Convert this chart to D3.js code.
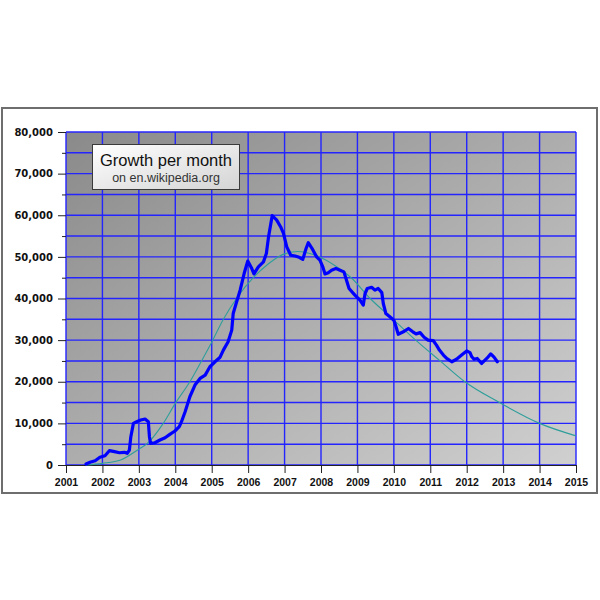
<!DOCTYPE html>
<html>
<head>
<meta charset="utf-8">
<script src="https://cdn.jsdelivr.net/npm/d3@7"></script>
<style>
  html, body { margin: 0; padding: 0; background: #fff; }
  svg { display: block; }
</style>
</head>
<body>
<svg id="chart" width="600" height="600"></svg>
<script>
// ---- Data ----
const growthYears = [
  2001.55, 2001.66, 2001.80, 2001.93, 2002.07, 2002.19, 2002.33, 2002.47, 2002.60, 2002.68,
  2002.74, 2002.78, 2002.85, 2002.94, 2003.05, 2003.17, 2003.26, 2003.29, 2003.32, 2003.44,
  2003.58, 2003.72, 2003.85, 2003.99, 2004.11, 2004.17, 2004.27, 2004.40, 2004.54, 2004.68,
  2004.82, 2004.95, 2005.09, 2005.23, 2005.32, 2005.45, 2005.55, 2005.59, 2005.67, 2005.78,
  2005.89, 2005.99, 2006.10, 2006.16, 2006.28, 2006.42, 2006.50, 2006.56, 2006.66, 2006.78,
  2006.89, 2006.97, 2007.06, 2007.17, 2007.29, 2007.40, 2007.50, 2007.59, 2007.65, 2007.77,
  2007.88, 2007.97, 2008.05, 2008.11, 2008.20, 2008.29, 2008.41, 2008.52, 2008.63, 2008.70,
  2008.77, 2008.93, 2009.07, 2009.16, 2009.21, 2009.27, 2009.39, 2009.48, 2009.57, 2009.67,
  2009.71, 2009.78, 2009.89, 2010.00, 2010.06, 2010.12, 2010.26, 2010.40, 2010.52, 2010.61,
  2010.72, 2010.83, 2010.94, 2011.08, 2011.17, 2011.25, 2011.36, 2011.45, 2011.59, 2011.72,
  2011.86, 2012.00, 2012.09, 2012.14, 2012.20, 2012.29, 2012.41, 2012.55, 2012.66, 2012.75,
  2012.84
];
const growthValues = [
  240, 650, 1030, 1850, 2230, 3440, 3200, 2950, 3050, 2800,
  3600, 6800, 10000, 10400, 10800, 11050, 10400, 6800, 5200, 5350,
  6000, 6560, 7370, 8170, 9200, 10400, 12800, 16400, 19200, 20800,
  21600, 23600, 24800, 25900, 27600, 29600, 32400, 36400, 38800, 42000,
  46000, 49000, 47200, 45900, 47600, 48800, 50800, 54800, 59900, 58900,
  57250, 55650, 52400, 50400, 50200, 49900, 49400, 52000, 53400, 51800,
  50000, 49200, 47600, 45900, 46200, 46800, 47200, 46800, 46400, 44400,
  42400, 40800, 39600, 38400, 41200, 42400, 42700, 42000, 42400, 41400,
  38800, 36400, 35600, 34800, 33200, 31400, 32000, 32800, 32000, 31500,
  31800, 30700, 30000, 29900, 28800, 27600, 26400, 25600, 24800, 25400,
  26400, 27400, 27000, 26000, 25400, 25600, 24400, 25600, 26700, 25900,
  24800
];
const trendYears = [
  2001.55, 2002.0, 2002.5, 2003.0, 2003.21, 2003.67, 2004.0, 2004.40, 2004.72, 2005.0,
  2005.32, 2005.68, 2006.14, 2006.55, 2006.96, 2007.35, 2007.9, 2008.4, 2008.85, 2009.35,
  2009.98, 2010.6, 2011.27, 2011.95, 2012.9, 2014.0, 2015.0
];
const trendValues = [
  0, 400, 1200, 3800, 5000, 10000, 14800, 20000, 25000, 29500,
  35000, 40000, 45000, 48300, 50600, 51300, 50200, 47800, 44800, 40000,
  35000, 30000, 25000, 20000, 15000, 10000, 7000
];
const yearTicks = [2001, 2002, 2003, 2004, 2005, 2006, 2007, 2008, 2009, 2010, 2011, 2012, 2013, 2014, 2015];
const valueTicks = [0, 10000, 20000, 30000, 40000, 50000, 60000, 70000, 80000];
const gridValues = [0, 5000, 10000, 15000, 20000, 25000, 30000, 35000, 40000, 45000, 50000, 55000, 60000, 65000, 70000, 75000, 80000];
const minorValues = [5000, 15000, 25000, 35000, 45000, 55000, 65000, 75000];
const titleText = "Growth per month";
const subtitleText = "on en.wikipedia.org";

// ---- Layout ----
const svg = d3.select("#chart");
const plot = { left: 66, top: 132, right: 576, bottom: 465 };

const x = d3.scaleLinear().domain([2001, 2015]).range([plot.left, plot.right]);
const y = d3.scaleLinear().domain([0, 80000]).range([plot.bottom, plot.top]);

const defs = svg.append("defs");
const bg = defs.append("linearGradient").attr("id", "bg")
  .attr("x1", "0").attr("y1", "0").attr("x2", "1").attr("y2", "1");
bg.append("stop").attr("offset", "0%").attr("stop-color", "#8a8a8a");
bg.append("stop").attr("offset", "100%").attr("stop-color", "#d0d0d0");

const tb = defs.append("linearGradient").attr("id", "titlebg")
  .attr("x1", "0").attr("y1", "0").attr("x2", "1").attr("y2", "1");
tb.append("stop").attr("offset", "0%").attr("stop-color", "#ffffff");
tb.append("stop").attr("offset", "100%").attr("stop-color", "#d4d4d4");

// outer frame
svg.append("rect")
  .attr("x", 2).attr("y", 108).attr("width", 595).attr("height", 385)
  .attr("fill", "#fff").attr("stroke", "#6e6e6e").attr("stroke-width", 2);

// plot background
svg.append("rect")
  .attr("x", plot.left).attr("y", plot.top)
  .attr("width", plot.right - plot.left).attr("height", plot.bottom - plot.top)
  .attr("fill", "url(#bg)");

// grid
const grid = svg.append("g").attr("stroke", "#2424ff").attr("stroke-width", 1.4);
grid.selectAll("line.h").data(gridValues).join("line")
  .attr("x1", plot.left).attr("x2", plot.right)
  .attr("y1", d => y(d)).attr("y2", d => y(d));
grid.selectAll("line.v").data(yearTicks).join("line")
  .attr("y1", plot.top).attr("y2", plot.bottom)
  .attr("x1", d => x(d)).attr("x2", d => x(d));

// axes
const yAxis = svg.append("g")
  .attr("transform", `translate(${plot.left},0)`)
  .call(d3.axisLeft(y).tickValues(valueTicks).tickSize(8).tickPadding(5).tickFormat(d3.format(",")));
yAxis.select(".domain").remove();
yAxis.selectAll("line").attr("stroke", "#222");
yAxis.selectAll("text")
  .attr("font-family", "DejaVu Sans, sans-serif").attr("font-weight", "bold")
  .attr("font-size", 10).attr("fill", "#111");

const yMinor = svg.append("g")
  .attr("transform", `translate(${plot.left},0)`)
  .call(d3.axisLeft(y).tickValues(minorValues).tickSize(4).tickFormat(""));
yMinor.select(".domain").remove();
yMinor.selectAll("line").attr("stroke", "#222");

const xAxis = svg.append("g")
  .attr("transform", `translate(0,${plot.bottom})`)
  .call(d3.axisBottom(x).tickValues(yearTicks).tickSize(8).tickPadding(6).tickSizeOuter(0).tickFormat(d3.format("d")));
xAxis.select(".domain").attr("stroke", "#222").attr("stroke-width", 1.2);
xAxis.selectAll("line").attr("stroke", "#222");
xAxis.selectAll("text")
  .attr("font-family", "Liberation Sans, Arial, sans-serif").attr("font-weight", "bold")
  .attr("font-size", 10.5).attr("fill", "#111");

// trend curve
const trendData = trendYears.map((t, i) => [t, trendValues[i]]);
svg.append("path")
  .datum(trendData)
  .attr("fill", "none").attr("stroke", "#2e9e9a").attr("stroke-width", 1.1)
  .attr("d", d3.line().x(d => x(d[0])).y(d => y(d[1])).curve(d3.curveMonotoneX));

// growth line
const growthData = growthYears.map((t, i) => [t, growthValues[i]]);
svg.append("path")
  .datum(growthData)
  .attr("fill", "none").attr("stroke", "#0000ff").attr("stroke-width", 3.2)
  .attr("stroke-linejoin", "round").attr("stroke-linecap", "round")
  .attr("d", d3.line().x(d => x(d[0])).y(d => y(d[1])));

// title box
svg.append("rect")
  .attr("x", 92.5).attr("y", 144.5).attr("width", 147).attr("height", 45)
  .attr("fill", "url(#titlebg)").attr("stroke", "#3a3a3a").attr("stroke-width", 1);
svg.append("text")
  .attr("x", 166).attr("y", 165.5).attr("text-anchor", "middle")
  .attr("font-family", "Liberation Sans, Arial, sans-serif").attr("font-size", 16.5)
  .attr("fill", "#111").text(titleText);
svg.append("text")
  .attr("x", 166).attr("y", 181.5).attr("text-anchor", "middle")
  .attr("font-family", "Liberation Sans, Arial, sans-serif").attr("font-size", 12.5)
  .attr("fill", "#333").text(subtitleText);
</script>
</body>
</html>
